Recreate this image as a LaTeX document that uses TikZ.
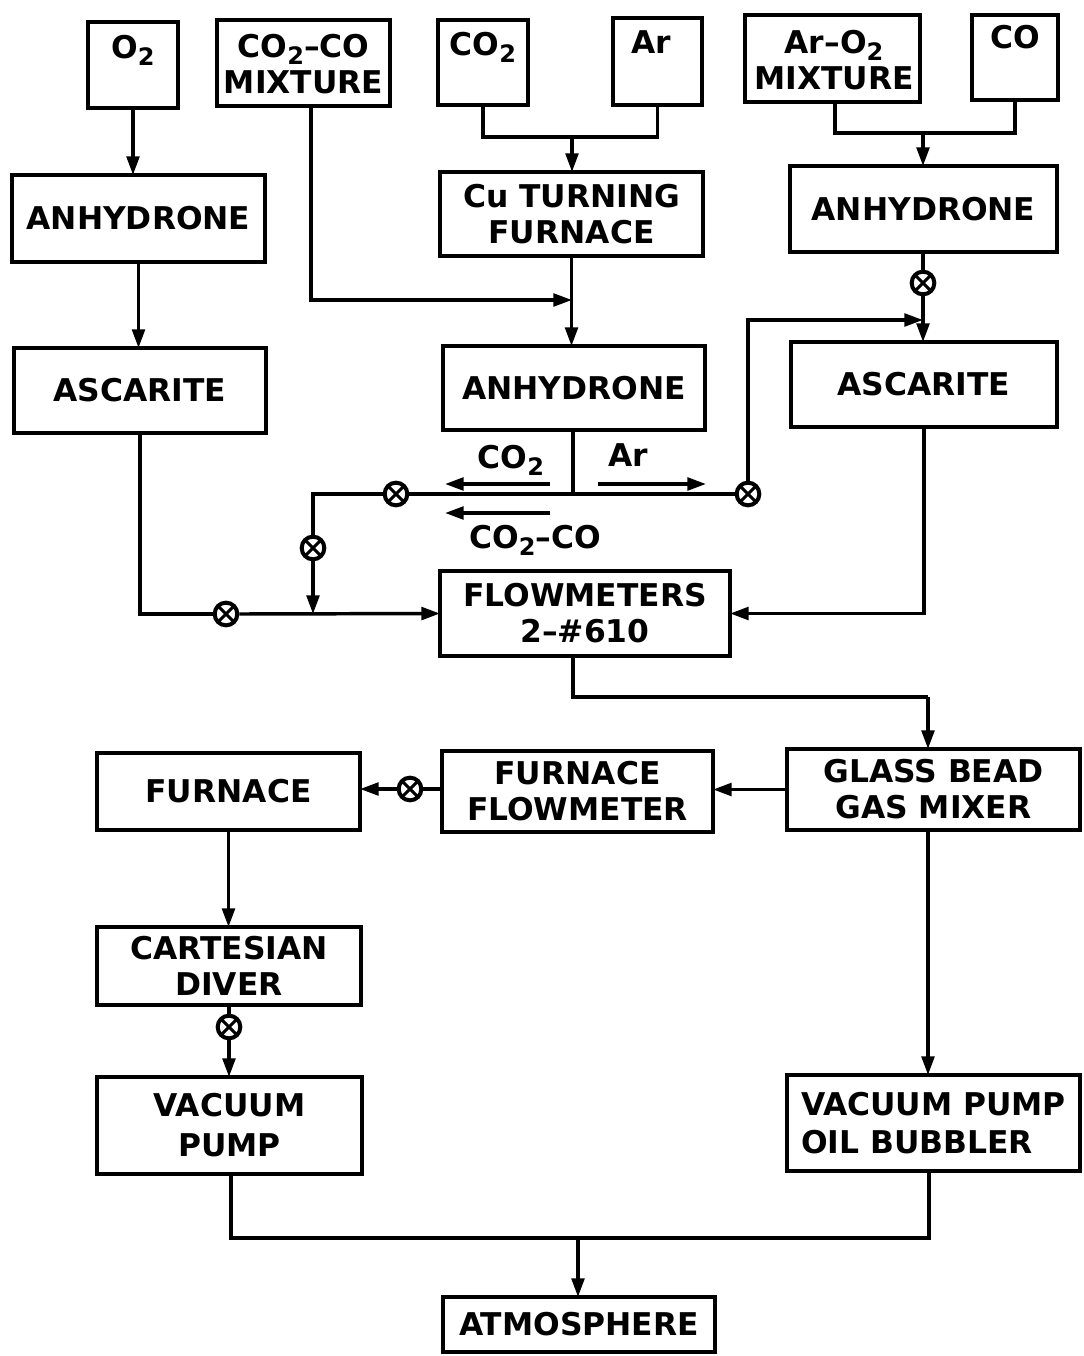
\documentclass[tikz,border=0pt]{standalone}
\usepackage{fontspec}
\setmainfont{DejaVu Sans}
\usetikzlibrary{arrows.meta}
\newcommand{\gsub}[1]{\raisebox{-0.4ex}{\fontsize{18pt}{18pt}\selectfont #1}}
\begin{document}
\begin{tikzpicture}[x=0.75pt,y=-0.75pt,
  box/.style={draw,line width=3pt,inner sep=0pt,outer sep=0pt,align=center,
    font=\fontsize{23.5pt}{27pt}\selectfont\bfseries},
  txt/.style={inner sep=0pt,align=center,font=\fontsize{23.5pt}{27pt}\selectfont\bfseries},
  conn/.style={line width=2.6pt},
  arr/.style={line width=2.6pt,-{Triangle[length=14pt,width=9.5pt]}},
  valve/.style={circle,draw,line width=3pt,fill=white,minimum size=17pt,inner sep=0pt,
    path picture={\draw[line width=2.2pt] (path picture bounding box.north west)--(path picture bounding box.south east)
      (path picture bounding box.north east)--(path picture bounding box.south west);}}]
\useasboundingbox (0,0) rectangle (1083,1356);
% source boxes
\node[box,minimum width=67.5pt,minimum height=64.5pt] (o2) at (133,65) {};
\node[txt] (o2t) at (133,50) {O\gsub{2}};
\node[box,minimum width=129.75pt,minimum height=64.5pt] (cmix) at (303.5,63) {};
\node[txt] (cmixt) at (303.5,64) {CO\gsub{2}–CO\\MIXTURE};
\node[box,minimum width=67.5pt,minimum height=63.75pt] (co2) at (483,62.5) {};
\node[txt] (co2t) at (483,47) {CO\gsub{2}};
\node[box,minimum width=66.75pt,minimum height=65.25pt] (ar) at (657.5,61.5) {};
\node[txt] (art) at (651,42) {Ar};
\node[box,minimum width=131.25pt,minimum height=65.25pt] (aromix) at (832.5,58.5) {};
\node[txt] (aromixt) at (834,60) {Ar–O\gsub{2}\\MIXTURE};
\node[box,minimum width=64.5pt,minimum height=63.75pt] (co) at (1015,57.5) {};
\node[txt] (cot) at (1015,37) {CO};
% processing boxes
\node[box,minimum width=189.75pt,minimum height=65.25pt] (anhL) at (138.5,218.5) {ANHYDRONE};
\node[box,minimum width=197.25pt,minimum height=63pt] (cu) at (571.5,214) {Cu TURNING\\FURNACE};
\node[box,minimum width=200.25pt,minimum height=64.5pt] (anhR) at (923.5,209) {ANHYDRONE};
\node[box,minimum width=189pt,minimum height=63.75pt] (ascL) at (140,390.5) {ASCARITE};
\node[box,minimum width=196.5pt,minimum height=63pt] (anhC) at (574,388) {ANHYDRONE};
\node[box,minimum width=199.5pt,minimum height=63.75pt] (ascR) at (924,384.5) {ASCARITE};
\node[box,minimum width=217.5pt,minimum height=63.75pt] (flow) at (585,613.5) {FLOWMETERS\\2–\#610};
\node[box,minimum width=219.75pt,minimum height=60.75pt] (glass) at (933.5,789.5) {GLASS BEAD\\GAS MIXER};
\node[box,minimum width=203.25pt,minimum height=60.75pt] (ffm) at (577.5,791.5) {FURNACE\\FLOWMETER};
\node[box,minimum width=197.25pt,minimum height=57.75pt] (furn) at (228.5,791.5) {FURNACE};
\node[box,minimum width=198pt,minimum height=58.5pt] (cart) at (229,966) {CARTESIAN\\DIVER};
\node[box,minimum width=198.75pt,minimum height=72.75pt,font=\fontsize{23.5pt}{30pt}\selectfont\bfseries] (vac) at (229.5,1125.5) {VACUUM\\PUMP};
\node[box,minimum width=219.75pt,minimum height=72pt,align=left,font=\fontsize{23.5pt}{29pt}\selectfont\bfseries] (vob) at (933.5,1123) {VACUUM PUMP\\OIL BUBBLER};
\node[box,minimum width=204pt,minimum height=41.25pt] (atm) at (579,1324.5) {ATMOSPHERE};
% valves
\node[valve] (vL1) at (226,614) {};
\node[valve] (v1) at (396,494) {};
\node[valve] (v2) at (313,548) {};
\node[valve] (v3) at (748,494) {};
\node[valve] (v4) at (923,283) {};
\node[valve] (v5) at (410,789) {};
\node[valve] (v6) at (229,1027) {};
% coordinates
\coordinate (jT) at (572,137);
\coordinate (jT2) at (923,133);
\coordinate (cmo) at (311,106);
\coordinate (jM) at (572,300);
\coordinate (jC) at (573,494);
\coordinate (jL) at (313,614);
\coordinate (jR) at (923,320);
\coordinate (fo) at (573,656);
\coordinate (fg) at (928,697);
\coordinate (jA) at (578,1238);
\coordinate (vacb) at (231,1174);
\coordinate (vobb) at (929,1171);
% left column
\draw[arr] (o2.south) -- (o2.south |- anhL.north);
\draw[arr] (anhL.south) -- (anhL.south |- ascL.north);
\draw[conn] (ascL.south) |- (vL1.west);
\draw[arr] (vL1.east) -- (flow.west);
% sources center
\draw[conn] (co2.south) |- (jT) -| (ar.south);
\draw[arr] (jT) -- (jT |- cu.north);
\draw[arr] (cmo) |- (jM);
\draw[arr] (cu.south) -- (cu.south |- anhC.north);
% sources right
\draw[conn] (aromix.south -| 835,0) |- (jT2) -| (co.south);
\draw[arr] (jT2) -- (jT2 |- anhR.north);
\draw[conn] (anhR.south -| v4) -- (v4.north);
\draw[arr] (v4.south) -- (v4 |- ascR.north);
\draw[arr] (ascR.south) |- (flow.east);
% distribution line
\draw[conn] (anhC.south -| jC) -- (jC);
\draw[conn] (v1.east) -- (v3.west);
\draw[conn] (v1.west) -| (v2.north);
\draw[arr] (v2.south) -- (jL);
\draw[arr] (v3.north) |- (jR);
% flow direction arrows and labels
\coordinate (a1s) at (550,484); \coordinate (a1e) at (445,484);
\coordinate (a2s) at (598,484); \coordinate (a2e) at (706,484);
\coordinate (a3s) at (550,513); \coordinate (a3e) at (445,513);
\draw[arr] (a1s) -- (a1e);
\draw[arr] (a2s) -- (a2e);
\draw[arr] (a3s) -- (a3e);
\node[txt] (lco2) at (511,460) {CO\gsub{2}};
\node[txt] (lar) at (628,455) {Ar};
\node[txt] (lcoco) at (535,540) {CO\gsub{2}–CO};
% lower part
\draw[conn] (fo) |- (fg);
\draw[arr] (fg) -- (fg |- glass.north);
\draw[arr] (glass.west) -- (glass.west -| ffm.east);
\draw[conn] (ffm.west |- v5) -- (v5.east);
\draw[arr] (v5.west) -- (v5 -| furn.east);
\draw[arr] (furn.south) -- (furn.south |- cart.north);
\draw[conn] (cart.south -| v6) -- (v6.north);
\draw[arr] (v6.south) -- (v6 |- vac.north);
\draw[arr] (glass.south -| fg) -- (fg |- vob.north);
\draw[conn] (vacb) |- (jA) -| (vobb);
\draw[arr] (jA) -- (jA |- atm.north);
\end{tikzpicture}
\end{document}
